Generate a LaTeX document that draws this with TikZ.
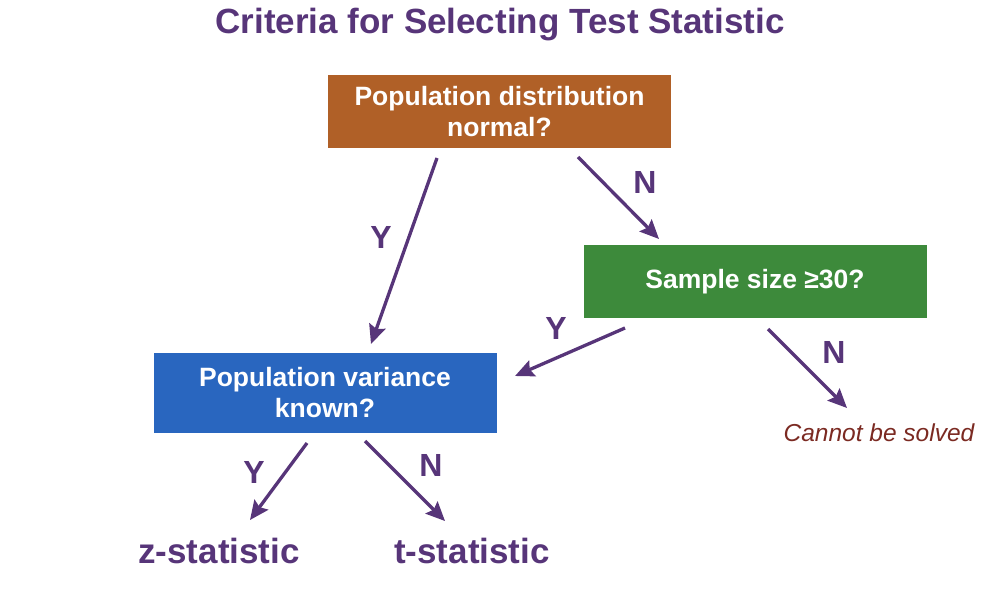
\documentclass[tikz,border=0pt]{standalone}
\usepackage{fontspec}
\setmainfont{Liberation Sans}
\usetikzlibrary{arrows.meta}
\definecolor{purp}{HTML}{573579}
\definecolor{orng}{HTML}{B06027}
\definecolor{grn}{HTML}{3D8A3B}
\definecolor{blu}{HTML}{2966BF}
\definecolor{redbrn}{HTML}{7B2A22}

\begin{document}
\begin{tikzpicture}[x=1pt, y=-1pt,
  box/.style={minimum width=343pt, minimum height=73pt, inner sep=0pt, text=white,
    font=\fontsize{26.5}{31}\selectfont\bfseries, align=center},
  arr/.style={purp, line width=3.3pt, -{Stealth[length=19pt, width=17pt, inset=3pt]}},
  yn/.style={text=purp, font=\fontsize{32}{34}\selectfont\bfseries},
  res/.style={text=purp, font=\fontsize{35}{38}\selectfont\bfseries}]
\useasboundingbox (0,0) rectangle (994,594);

% title
\node[text=purp, font=\fontsize{35}{38}\selectfont\bfseries] (title) at (500,25) {Criteria for Selecting Test Statistic};

% boxes
\node[box, fill=orng] (popdist) at (499.5,111.5) {Population distribution\\normal?};
\node[box, fill=grn] (sample) at (755,281.5) {Sample size ≥30?};
\node[box, fill=blu, minimum height=80pt] (popvar) at (325,393) {Population variance\\known?};

% results
\node[res] (zstat) at (219,551) {z-statistic};
\node[res] (tstat) at (472,551) {t-statistic};
\node[text=redbrn, font=\fontsize{24.5}{28}\selectfont\itshape] (nosol) at (879,433) {Cannot be solved};

% arrow ends
\coordinate (a1) at (437,158);  \coordinate (b1) at (371,344);
\coordinate (a2) at (578,157);  \coordinate (b2) at (659,239);
\coordinate (a3) at (625,328);  \coordinate (b3) at (515,376);
\coordinate (a4) at (768,329);  \coordinate (b4) at (847,408);
\coordinate (a5) at (307,443);  \coordinate (b5) at (250,520);
\coordinate (a6) at (365,441);  \coordinate (b6) at (445,521);

\draw[arr] (a1) -- (b1);
\draw[arr] (a2) -- (b2);
\draw[arr] (a3) -- (b3);
\draw[arr] (a4) -- (b4);
\draw[arr] (a5) -- (b5);
\draw[arr] (a6) -- (b6);

% labels
\node[yn] (y1) at (381,237) {Y};
\node[yn] (n1) at (645,182) {N};
\node[yn] (y2) at (556,328) {Y};
\node[yn] (n2) at (834,352) {N};
\node[yn] (y3) at (254,472) {Y};
\node[yn] (n3) at (431,465) {N};
\end{tikzpicture}
\end{document}
